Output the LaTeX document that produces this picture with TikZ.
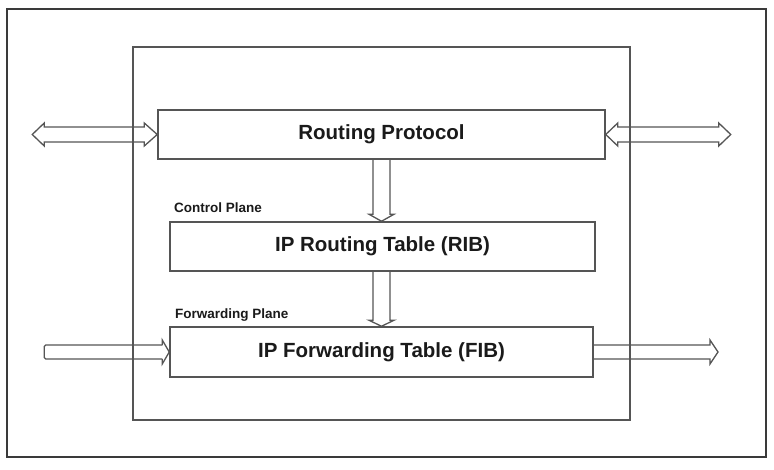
\documentclass[tikz,border=0pt]{standalone}
\usepackage{fontspec}
\setmainfont{Liberation Sans}
\usetikzlibrary{calc}
\definecolor{linegray}{HTML}{555555}
\definecolor{framegray}{HTML}{3A3A3A}
\definecolor{textblack}{HTML}{1A1A1A}
\tikzset{
  box/.style={draw=linegray, line width=1.5pt, fill=white, inner sep=0pt,
    font=\bfseries\fontsize{20.5}{24}\selectfont, text=textblack},
  planelabel/.style={inner sep=0pt, anchor=base west,
    font=\bfseries\fontsize{13.5}{16}\selectfont, text=textblack},
  blockarrow/.style={draw=linegray, line width=1.3pt, line join=miter, fill=none},
}
\begin{document}
\begin{tikzpicture}[x=1pt,y=-1pt]
\useasboundingbox (0,0) rectangle (774,469);
\fill[white] (0,0) rectangle (774,469);
% outer frame
\draw[framegray, line width=2.5pt] (7,9) rectangle (766,457);
% inner rectangle
\draw[linegray, line width=1.5pt] (133,47) rectangle (630,420);

% boxes
\node[box, minimum width=447pt, minimum height=49pt] (rp) at (381.5,134.5) {Routing Protocol};
\node[box, minimum width=425pt, minimum height=49pt] (rib) at (382.5,246.5) {IP Routing Table (RIB)};
\node[box, minimum width=423pt, minimum height=50pt] (fib) at (381.5,352) {IP Forwarding Table (FIB)};

% labels
\node[planelabel] (cp) at (174,212) {Control Plane};
\node[planelabel] (fp) at (175,318) {Forwarding Plane};

% left double arrow (ends at rp.west)
\draw[blockarrow] ($(rp.west)+(-125,0)$) coordinate (ltip)
  -- ++(12,-11.5) -- ++(0,4) -- ++(100,0) -- ++(0,-4) -- (rp.west)
  -- ++(-13,11.5) -- ++(0,-4) -- ++(-100,0) -- ++(0,4) -- cycle;

% right double arrow (starts at rp.east)
\draw[blockarrow] (rp.east)
  -- ++(12,-11.5) -- ++(0,4) -- ++(101,0) -- ++(0,-4) -- ++(12,11.5) coordinate (rtip)
  -- ++(-12,11.5) -- ++(0,-4) -- ++(-101,0) -- ++(0,4) -- cycle;

% vertical arrow rp -> rib
\draw[blockarrow] ($(rp.south)+(-8.5,0)$)
  -- ($(rp.south |- rib.north)+(-8.5,-7)$) -- ++(-4,0)
  -- (rp.south |- rib.north)
  -- ($(rp.south |- rib.north)+(12.5,-7)$) -- ++(-4,0)
  -- ($(rp.south)+(8.5,0)$);

% vertical arrow rib -> fib
\draw[blockarrow] ($(fib.north |- rib.south)+(-8.5,0)$)
  -- ($(fib.north)+(-8.5,-6)$) -- ++(-4,0)
  -- (fib.north)
  -- ($(fib.north)+(12.5,-6)$) -- ++(-4,0)
  -- ($(fib.north |- rib.south)+(8.5,0)$);

% input arrow -> fib.west
\draw[blockarrow, rounded corners=1.5pt] ($(fib.west)+(-7,-7)$)
  -- ($(fib.west)+(-125,-7)$) -- ($(fib.west)+(-125,7)$) -- ($(fib.west)+(-7,7)$);
\draw[blockarrow] ($(fib.west)+(-7,-7)$) -- ++(0,-5) -- (fib.west) -- ($(fib.west)+(-7,12)$) -- ++(0,-5);

% output arrow from fib.east
\draw[blockarrow] (fib.east |- 0,345) -- (710,345) -- (710,340) -- (718,352) coordinate (otip)
  -- (710,364) -- (710,359) -- (fib.east |- 0,359);
\end{tikzpicture}
\end{document}
